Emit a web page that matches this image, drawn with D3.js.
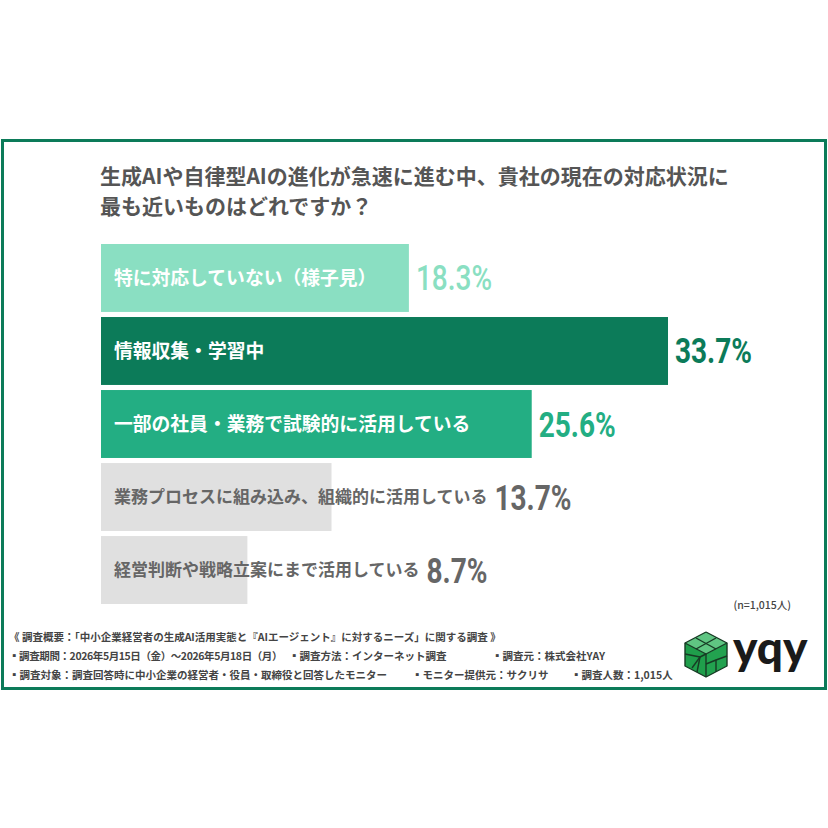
<!DOCTYPE html>
<html><head><meta charset="utf-8">
<script src="https://cdn.jsdelivr.net/npm/d3@7"></script>
<style>
html,body{margin:0;padding:0;background:#fff;}
svg{display:block;}
</style></head>
<body>
<script>
const categories = [
  "特に対応していない（様子見）",
  "情報収集・学習中",
  "一部の社員・業務で試験的に活用している",
  "業務プロセスに組み込み、組織的に活用している",
  "経営判断や戦略立案にまで活用している"
];
const values = [18.3, 33.7, 25.6, 13.7, 8.7];
const titleLines = [
  "生成AIや自律型AIの進化が急速に進む中、貴社の現在の対応状況に",
  "最も近いものはどれですか？"
];
const sampleNote = "(n=1,015人)";
const footerLine1 = "《 調査概要：「中小企業経営者の生成AI活用実態と『AIエージェント』に対するニーズ」に関する調査 》";
const footerLine2 = ["▪調査期間：2026年5月15日（金）～2026年5月18日（月）", "▪調査方法：インターネット調査", "▪調査元：株式会社YAY"];
const footerLine3 = ["▪調査対象：調査回答時に中小企業の経営者・役員・取締役と回答したモニター", "▪モニター提供元：サクリサ", "▪調査人数：1,015人"];

const barColors = ["#8adfc2", "#0c7b59", "#23ae83", "#e0e0e0", "#e0e0e0"];
const labelColors = ["#ffffff", "#ffffff", "#ffffff", "#666666", "#666666"];
const valueColors = ["#8adfc2", "#0c7b59", "#23ae83", "#666666", "#666666"];

(function () {
const W = 828, H = 828;
const JP = "'Noto Sans CJK JP', 'Noto Sans', sans-serif";
const svg = d3.select("body").append("svg").attr("width", W).attr("height", H);

svg.append("rect").attr("width", W).attr("height", H).attr("fill", "#fff");
// frame
svg.append("rect").attr("x", 2.5).attr("y", 140.5).attr("width", 823).attr("height", 548)
  .attr("fill", "none").attr("stroke", "#0c7b59").attr("stroke-width", 3);

// title
svg.append("g").selectAll("text").data(titleLines).join("text")
  .attr("x", 100).attr("y", (d, i) => 184 + i * 29.5)
  .attr("font-family", JP).attr("font-weight", 700).attr("font-size", 21)
  .attr("fill", "#555555").text(d => d);

// scales
const x = d3.scaleLinear().domain([0, 40]).range([101, 774]);
const y = d3.scaleBand().domain(categories).range([244, 604]).paddingInner(5 / 72).paddingOuter(0);

const g = svg.append("g");
g.selectAll("rect.bar").data(values).join("rect").attr("class", "bar")
  .attr("x", x(0)).attr("y", (d, i) => y(categories[i]))
  .attr("width", d => x(d) - x(0)).attr("height", y.bandwidth())
  .attr("fill", (d, i) => barColors[i]);

const labels = g.selectAll("text.lab").data(categories).join("text").attr("class", "lab")
  .attr("x", 114).attr("y", d => y(d) + y.bandwidth() / 2).attr("dy", "0.36em")
  .attr("font-family", JP).attr("font-weight", 700)
  .attr("font-size", (d, i) => i >= 3 ? 17 : 18.8)
  .attr("fill", (d, i) => labelColors[i]).text(d => d);

const labelEnds = [];
labels.each(function (d, i) { labelEnds[i] = 114 + this.getComputedTextLength(); });

values.forEach((v, i) => {
  const start = Math.max(x(v), labelEnds[i]) + 7;
  const cy = y(categories[i]) + y.bandwidth() / 2;
  g.append("text")
    .attr("transform", `translate(${start},${cy + 12.5}) scale(0.8,1)`)
    .attr("font-family", "Roboto, 'DejaVu Sans', sans-serif")
    .attr("font-weight", i === 0 ? 500 : 700).attr("font-size", 35)
    .attr("fill", valueColors[i]).text(d3.format(".1f")(v) + "%");
});

// n note
svg.append("text").attr("x", 791).attr("y", 609).attr("text-anchor", "end")
  .attr("font-family", JP).attr("font-size", 10.5).attr("font-weight", 500)
  .attr("fill", "#444").text(sampleNote);

// footer
const foot = svg.append("g").attr("font-family", JP).attr("font-size", 10.5)
  .attr("font-weight", 700).attr("fill", "#444");
foot.append("text").attr("x", 9).attr("y", 641).text(footerLine1);
const f2x = [9, 289, 492], f3x = [9, 412, 571];
footerLine2.forEach((t, i) => foot.append("text").attr("x", f2x[i]).attr("y", 660)
  .attr("letter-spacing", i === 0 ? -0.4 : 0).text(t));
footerLine3.forEach((t, i) => foot.append("text").attr("x", f3x[i]).attr("y", 679).text(t));

// logo
const lg = svg.append("g").attr("transform", "translate(706,654)");
const P = (pts) => pts.map(p => p.join(",")).join(" ");
const vt = [0, -22], ur = [21, -11], lr = [21, 12], bt = [0, 23], ll = [-21, 12], ul = [-21, -11], c = [0, 0];
lg.append("polygon").attr("points", P([vt, ur, c, ul])).attr("fill", "#5fc582");
lg.append("polygon").attr("points", P([ul, c, bt, ll])).attr("fill", "#1f9e4b");
lg.append("polygon").attr("points", P([c, ur, lr, bt])).attr("fill", "#22a24f");
const line = (pts) => lg.append("polyline").attr("points", P(pts))
  .attr("stroke", "#173a24").attr("stroke-width", 1.4).attr("fill", "none").attr("stroke-linejoin", "round");
line([vt, ur, lr, bt, ll, ul, vt]);
line([ul, c, ur]); line([c, bt]);
line([[-10, -16], [10, -5]]);
line([[10, -16], [-10, -5]]);
line([[-21, 0], [-6, 3], [0, 0]]);
line([[-6, 3], [-9, 18]]);
line([[-6, 3], [-14, 14]]);
line([[0, 10], [10, 6], [10, 18]]);
line([[10, 6], [21, 2]]);
svg.append("text").attr("x", 733).attr("y", 664)
  .attr("font-family", "Lato, Inter, sans-serif").attr("font-weight", 900).attr("font-size", 46)
  .attr("fill", "#1a1a1a").attr("letter-spacing", 0).text("yqy");
})();
</script>
</body></html>
